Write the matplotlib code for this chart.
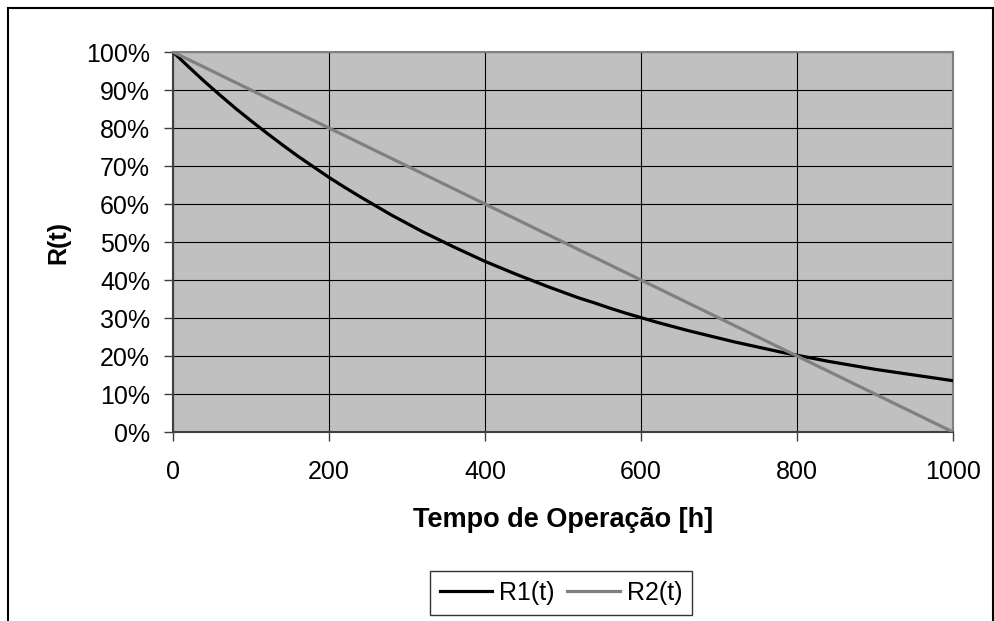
import matplotlib.pyplot as plt
from matplotlib.patches import Rectangle
from matplotlib.ticker import PercentFormatter

plt.rcParams['font.family'] = ['Liberation Sans', 'DejaVu Sans']

# operating time [h]
tempo = list(range(0, 1001, 20))

# reliability
r1 = [1.000, 0.961, 0.923, 0.887, 0.852, 0.819, 0.787, 0.756, 0.726, 0.698,
      0.670, 0.644, 0.619, 0.595, 0.571, 0.549, 0.527, 0.507, 0.487, 0.468,
      0.449, 0.432, 0.415, 0.399, 0.383, 0.368, 0.353, 0.340, 0.326, 0.313,
      0.301, 0.289, 0.278, 0.267, 0.257, 0.247, 0.237, 0.228, 0.219, 0.210,
      0.202, 0.194, 0.186, 0.179, 0.172, 0.165, 0.159, 0.153, 0.147, 0.141,
      0.135]
r2 = [1.00, 0.98, 0.96, 0.94, 0.92, 0.90, 0.88, 0.86, 0.84, 0.82,
      0.80, 0.78, 0.76, 0.74, 0.72, 0.70, 0.68, 0.66, 0.64, 0.62,
      0.60, 0.58, 0.56, 0.54, 0.52, 0.50, 0.48, 0.46, 0.44, 0.42,
      0.40, 0.38, 0.36, 0.34, 0.32, 0.30, 0.28, 0.26, 0.24, 0.22,
      0.20, 0.18, 0.16, 0.14, 0.12, 0.10, 0.08, 0.06, 0.04, 0.02,
      0.00]

x_ticks = [0, 200, 400, 600, 800, 1000]

fig = plt.figure(figsize=(9.94, 6.21), dpi=100)
ax = fig.add_axes([173/994, 1 - 432/621, (953 - 173)/994, (432 - 52)/621])
ax.set_facecolor('#c0c0c0')

ax.plot(tempo, r1, color='black', lw=2.3, label='R1(t)', zorder=3)
ax.plot(tempo, r2, color='#808080', lw=2.3, label='R2(t)', zorder=3)

ax.set_xlim(0, 1000)
ax.set_ylim(0, 1)
ax.set_xticks(x_ticks)
ax.set_yticks([i / 10 for i in range(11)])
ax.yaxis.set_major_formatter(PercentFormatter(1.0, decimals=0))
ax.grid(True, color='black', lw=0.8, zorder=1)
ax.set_axisbelow(True)

for s in ax.spines.values():
    s.set_color('#808080')
    s.set_linewidth(1.5)
ax.spines['left'].set_color('#404040')
ax.spines['bottom'].set_color('#404040')
ax.tick_params(axis='both', labelsize=18, length=6.5, width=1, color='#404040')
ax.tick_params(axis='y', pad=10)
ax.tick_params(axis='x', pad=14)

ax.set_xlabel('Tempo de Operação [h]', fontsize=19.5, fontweight='bold', labelpad=16)
ax.set_ylabel('R(t)', fontsize=18, fontweight='bold', labelpad=11)

leg = ax.legend(loc='center', bbox_to_anchor=(561/994, 1 - 593/621),
                bbox_transform=fig.transFigure, ncol=2, fontsize=18,
                frameon=True, fancybox=False, edgecolor='black',
                handlelength=2.1, handletextpad=0.28, columnspacing=0.5,
                borderpad=0.4)
leg.get_frame().set_linewidth(1.0)

fig.patches.append(Rectangle((8/994, -0.02), (993 - 8)/994, 1.02 - 8/621,
                             transform=fig.transFigure, fill=False,
                             edgecolor='black', lw=1.5))

fig.savefig('out.png', dpi=100)
